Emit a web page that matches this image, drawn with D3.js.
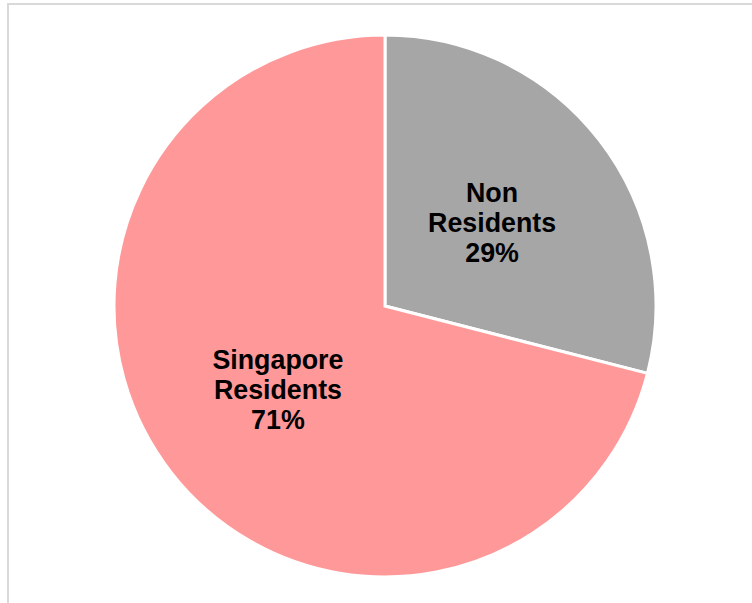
<!DOCTYPE html>
<html>
<head>
<meta charset="utf-8">
<script src="https://cdn.jsdelivr.net/npm/d3@7"></script>
<style>
  body { margin: 0; background: #fff; }
  svg { display: block; }
</style>
</head>
<body>
<div class="root"></div>
<script>
var width = 752;
var height = 603;

var categories = ["Non Residents", "Singapore Residents"];
var labelLines = [["Non", "Residents"], ["Singapore", "Residents"]];
var values = [29, 71];
var colors = ["#a6a6a6", "#ff9999"];

var svg = d3.select(".root").append("svg")
  .attr("width", width)
  .attr("height", height);

// chart area frame
svg.append("rect")
  .attr("x", 8)
  .attr("y", 4)
  .attr("width", width + 10)
  .attr("height", height + 10)
  .attr("fill", "#fff")
  .attr("stroke", "#d9d9d9")
  .attr("stroke-width", 2);

var cx = 385, cy = 306, radius = 271;

var pie = d3.pie().sort(null).value(function (d) { return d; });
var arcs = pie(values);

var arc = d3.arc().innerRadius(0).outerRadius(radius);

var g = svg.append("g").attr("transform", "translate(" + cx + "," + cy + ")");

g.selectAll("path")
  .data(arcs)
  .enter().append("path")
  .attr("d", arc)
  .attr("fill", function (d, i) { return colors[i]; })
  .attr("stroke", "#fff")
  .attr("stroke-width", 3)
  .attr("stroke-linejoin", "miter");

var fmt = d3.format(".0%");
var total = d3.sum(values);

var labels = g.selectAll("text")
  .data(arcs)
  .enter().append("text")
  .attr("transform", function (d) {
    var c = arc.centroid(d);
    return "translate(" + c[0] + "," + c[1] + ")";
  })
  .attr("text-anchor", "middle")
  .style("font-family", "Liberation Sans, Arial, sans-serif")
  .style("font-weight", "bold")
  .style("font-size", "26.8px")
  .attr("fill", "#000");

labels.each(function (d, i) {
  var lines = labelLines[i].concat([fmt(d.value / total)]);
  var t = d3.select(this);
  lines.forEach(function (l, k) {
    t.append("tspan")
      .attr("x", 0)
      .attr("y", (k - 1) * 30 + 9.5)
      .text(l);
  });
});
</script>
</body>
</html>
